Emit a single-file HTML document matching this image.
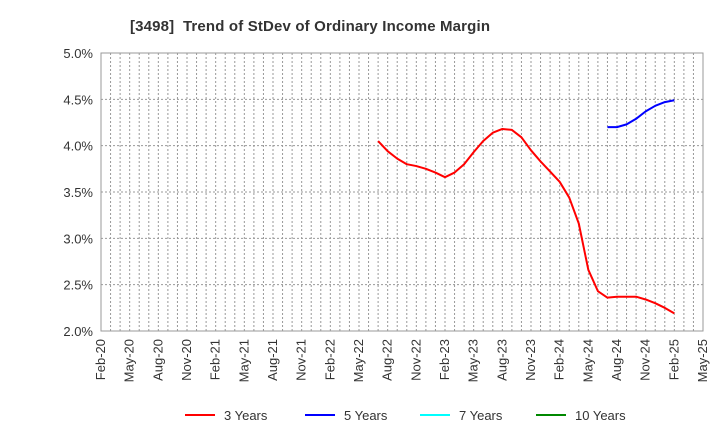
<!DOCTYPE html>
<html><head><meta charset="utf-8"><style>
body{margin:0;background:#fff;font-family:"Liberation Sans",sans-serif}
</style></head><body>
<svg id="chart" width="720" height="440" xmlns="http://www.w3.org/2000/svg" font-family="Liberation Sans, sans-serif">
<text x="130" y="31" font-size="15" font-weight="bold" fill="#333" textLength="360" lengthAdjust="spacing" xml:space="preserve">[3498]  Trend of StDev of Ordinary Income Margin</text>
<g id="grid"></g><g id="axes"></g><g id="series"></g>
<g font-size="13" fill="#333">
<line x1="185" y1="415" x2="215" y2="415" stroke="#f00" stroke-width="2"/><text x="224" y="420">3 Years</text>
<line x1="305" y1="415" x2="335" y2="415" stroke="#00f" stroke-width="2"/><text x="344" y="420">5 Years</text>
<line x1="420" y1="415" x2="450" y2="415" stroke="#0ff" stroke-width="2"/><text x="459" y="420">7 Years</text>
<line x1="536" y1="415" x2="566" y2="415" stroke="#080" stroke-width="2"/><text x="575" y="420">10 Years</text>
</g>
</svg>
<script>
const xLabels=["Feb-20","May-20","Aug-20","Nov-20","Feb-21","May-21","Aug-21","Nov-21","Feb-22","May-22","Aug-22","Nov-22","Feb-23","May-23","Aug-23","Nov-23","Feb-24","May-24","Aug-24","Nov-24","Feb-25","May-25"];
const yTicks=[2.0,2.5,3.0,3.5,4.0,4.5,5.0];
const start3=29; // months after Feb-20 (Jul-22)
const values3=[4.05,3.94,3.86,3.80,3.78,3.75,3.71,3.66,3.71,3.80,3.93,4.05,4.14,4.18,4.17,4.09,3.95,3.83,3.72,3.61,3.44,3.16,2.66,2.43,2.36,2.37,2.37,2.37,2.34,2.30,2.25,2.19];
const start5=53; // Jul-24
const values5=[4.20,4.20,4.23,4.29,4.37,4.43,4.47,4.49];
const L=101,R=703,T=53,B=331,NM=63;
const X=m=>L+(R-L)*m/NM;
const Y=v=>B-(B-T)*(v-2)/3;
const NS="http://www.w3.org/2000/svg";
function mk(p,tag,a){const e=document.createElementNS(NS,tag);for(const k in a)e.setAttribute(k,a[k]);p.appendChild(e);return e;}
const grid=document.getElementById('grid'),axes=document.getElementById('axes'),ser=document.getElementById('series');
for(let m=1;m<NM;m++){const l=mk(grid,'line',{x1:X(m),x2:X(m),y1:T,y2:B,stroke:'#999','stroke-dasharray':'2,2','stroke-width':1});

}
yTicks.forEach(v=>{const l=mk(grid,'line',{x1:L,x2:R,y1:Y(v),y2:Y(v),stroke:'#999','stroke-dasharray':'2,2','stroke-width':1});


const t=mk(axes,'text',{x:L-8,y:Y(v)+5,'text-anchor':'end','font-size':13,fill:'#333'});t.textContent=v.toFixed(1)+'%';

});
const fr=mk(axes,'rect',{x:L,y:T,width:R-L,height:B-T,fill:'none',stroke:'#999'});


xLabels.forEach((s,i)=>{const x=X(i*3);const t=mk(axes,'text',{x:x+4,y:B+8,'text-anchor':'end','font-size':13,fill:'#333',transform:`rotate(-90 ${x+4} ${B+8})`});t.textContent=s;

});
function line(vals,st,col,name){const p=mk(ser,'polyline',{points:vals.map((v,i)=>X(st+i)+','+Y(v)).join(' '),fill:'none',stroke:col,'stroke-width':2,'stroke-linejoin':'round'});

}
line(values3,start3,'#f00','series-3-years');
line(values5,start5,'#00f','series-5-years');
</script>
</body></html>
